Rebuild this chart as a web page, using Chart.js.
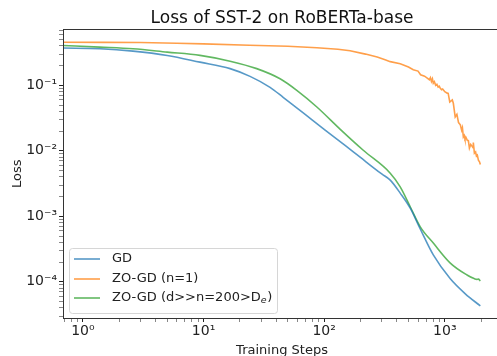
<!DOCTYPE html>
<html>
<head>
<meta charset="utf-8">
<script src="https://cdn.jsdelivr.net/npm/chart.js@4.4.0/dist/chart.umd.min.js"></script>
<style>
  html, body { margin: 0; padding: 0; overflow: hidden; background: #fff; }
  canvas { display: block; }
</style>
</head>
<body>
<canvas id="chart" width="504" height="356"></canvas>
<script>
// values (log-log)
const gdSteps = [0.684, 1.38, 2.6, 5, 9.35, 16.6, 24.3, 35.6, 45.7, 70, 100, 150, 200, 300, 353, 427, 517, 626, 803, 1111, 1479, 1971];
const gdLoss = [0.371, 0.362, 0.333, 0.286, 0.226, 0.180, 0.137, 0.0932, 0.0657, 0.0356, 0.0213, 0.0120, 0.00791, 0.00443, 0.00357, 0.00226, 0.00133, 0.00064, 0.000257, 0.000111, 0.0000655, 0.0000428];

const zoSteps = [0.684, 1.5, 3, 6, 10, 24, 50, 87, 130, 164, 220, 275, 320, 353, 427, 500, 548, 600, 630, 680, 720, 745, 760, 775, 790, 803, 820, 840, 860, 880, 900, 918, 940, 960, 1000, 1047, 1067, 1100, 1154, 1177, 1220, 1260, 1300, 1345, 1380, 1400, 1425, 1450, 1470, 1500, 1537, 1568, 1600, 1640, 1680, 1714, 1724, 1760, 1800, 1830, 1861, 1900, 1940, 1971];
const zoLoss = [0.455, 0.453, 0.45, 0.44, 0.43, 0.41, 0.395, 0.376, 0.355, 0.338, 0.30, 0.27, 0.245, 0.230, 0.214, 0.19, 0.173, 0.165, 0.145, 0.138, 0.128, 0.122, 0.131, 0.115, 0.126, 0.108, 0.114, 0.100, 0.104, 0.094, 0.097, 0.090, 0.086, 0.088, 0.080, 0.076, 0.0755, 0.0556, 0.060, 0.0532, 0.0329, 0.036, 0.027, 0.025, 0.0206, 0.0225, 0.0163, 0.0172, 0.0152, 0.016, 0.0145, 0.0143, 0.011, 0.0125, 0.0118, 0.0112, 0.0134, 0.0092, 0.0096, 0.0083, 0.0086, 0.0072, 0.0068, 0.0062, 0.0051];

const zo200Steps = [0.684, 1.38, 2.6, 5, 9.35, 16.6, 27.6, 43.1, 59.3, 87, 136, 211, 353, 427, 517, 626, 803, 1111, 1528, 1750, 1849, 1900, 1971];
const zo200Loss = [0.407, 0.384, 0.362, 0.322, 0.287, 0.234, 0.180, 0.126, 0.0839, 0.0467, 0.0213, 0.0102, 0.00456, 0.00282, 0.00140, 0.00069, 0.00039, 0.000193, 0.000127, 0.000112, 0.000109, 0.000110, 0.000103];

const seriesLabels = ['GD', 'ZO-GD (n=1)', 'ZO-GD (d>>n=200>De)'];
const seriesColors = ['rgba(31,119,180,0.75)', 'rgba(255,127,14,0.75)', 'rgba(44,160,44,0.75)'];

const xRange = [0.684, 2924];
const yRange = [2.8e-5, 0.715];

const sup = { '-': '⁻', '0': '⁰', '1': '¹', '2': '²', '3': '³', '4': '⁴', '5': '⁵' };

function isMajor(v) {
  const l = Math.log10(v);
  return Math.abs(l - Math.round(l)) < 1e-6;
}

function logTicks(min, max) {
  const t = [];
  for (let e = -6; e <= 4; e++) {
    for (let m = 1; m < 10; m++) {
      const v = m * Math.pow(10, e);
      if (v >= min && v <= max) t.push({ value: v });
    }
  }
  return t;
}

function tickLabel(v) {
  if (!isMajor(v)) return '';
  const e = String(Math.round(Math.log10(v)));
  return '10' + e.split('').map(c => sup[c]).join('');
}

function pts(xs, ys) {
  return xs.map((x, i) => ({ x: x, y: ys[i] }));
}

const font = { family: 'DejaVu Sans', size: 13 };
const tickFont = { family: 'DejaVu Sans', size: 14 };

// box around the plot area (matplotlib spines)
const frame = {
  id: 'frame',
  afterDatasetsDraw(chart) {
    const a = chart.chartArea, ctx = chart.ctx;
    ctx.save();
    ctx.strokeStyle = '#333';
    ctx.lineWidth = 1;
    ctx.strokeRect(Math.round(a.left) + 0.5, Math.round(a.top) + 0.5, Math.round(a.right - a.left), Math.round(a.bottom - a.top));
    ctx.restore();
  }
};

// legend in the lower-left corner, drawn like matplotlib's
const cornerLegend = {
  id: 'cornerLegend',
  afterDraw(chart) {
    const a = chart.chartArea, ctx = chart.ctx;
    const x = a.left + 6, w = 208, h = 65, y = a.bottom - 5 - h;
    ctx.save();
    ctx.beginPath();
    ctx.roundRect(x + 0.5, y + 0.5, w, h, 3);
    ctx.fillStyle = 'rgba(255,255,255,0.8)';
    ctx.fill();
    ctx.strokeStyle = '#d6d6d6';
    ctx.lineWidth = 1;
    ctx.stroke();
    const rows = [11, 31, 50];
    ctx.font = '13px "DejaVu Sans"';
    ctx.textBaseline = 'middle';
    ctx.fillStyle = '#222';
    chart.data.datasets.forEach((ds, i) => {
      const ry = y + rows[i];
      ctx.beginPath();
      ctx.moveTo(x + 5, ry);
      ctx.lineTo(x + 31, ry);
      ctx.strokeStyle = ds.borderColor;
      ctx.lineWidth = 1.6;
      ctx.stroke();
      let tx = x + 43;
      if (i === 2) {
        const head = 'ZO-GD (d>>n=200>D';
        ctx.fillText(head, tx, ry);
        tx += ctx.measureText(head).width;
        ctx.font = 'italic 9.5px "DejaVu Sans"';
        ctx.fillText('e', tx, ry + 3);
        tx += ctx.measureText('e').width + 0.5;
        ctx.font = '13px "DejaVu Sans"';
        ctx.fillText(')', tx, ry);
      } else {
        ctx.fillText(ds.label, tx, ry);
      }
    });
    ctx.restore();
  }
};

const tickStyle = {
  display: true,
  drawOnChartArea: false,
  drawTicks: true,
  tickLength: 4,
  tickColor: c => (c.tick && isMajor(c.tick.value)) ? '#222' : '#555',
  tickWidth: c => (c.tick && isMajor(c.tick.value)) ? 1 : 0.7
};

new Chart(document.getElementById('chart'), {
  type: 'line',
  data: {
    datasets: [
      { label: seriesLabels[0], data: pts(gdSteps, gdLoss), borderColor: seriesColors[0], cubicInterpolationMode: 'monotone' },
      { label: seriesLabels[1], data: pts(zoSteps, zoLoss), borderColor: seriesColors[1], tension: 0 },
      { label: seriesLabels[2], data: pts(zo200Steps, zo200Loss), borderColor: seriesColors[2], cubicInterpolationMode: 'monotone' }
    ]
  },
  options: {
    responsive: false,
    animation: false,
    devicePixelRatio: 1,
    layout: { padding: { left: 0, right: 3, top: 0, bottom: 0 } },
    elements: {
      point: { radius: 0 },
      line: { borderWidth: 1.6, fill: false }
    },
    scales: {
      x: {
        type: 'logarithmic',
        min: xRange[0],
        max: xRange[1],
        afterBuildTicks: s => { s.ticks = logTicks(xRange[0], xRange[1]); },
        afterFit: s => { s.height = 38; },
        grid: tickStyle,
        border: { display: true, color: '#333', width: 1 },
        ticks: { font: tickFont, color: '#222', padding: 1, autoSkip: false, maxRotation: 0, callback: v => tickLabel(v) },
        title: { display: true, text: 'Training Steps', font: font, color: '#222', padding: { top: 0, bottom: -2 } }
      },
      y: {
        type: 'logarithmic',
        min: yRange[0],
        max: yRange[1],
        afterBuildTicks: s => { s.ticks = logTicks(yRange[0], yRange[1]); },
        afterFit: s => { s.width = 63; },
        grid: tickStyle,
        border: { display: true, color: '#333', width: 1 },
        ticks: { font: tickFont, color: '#222', padding: 2, autoSkip: false, callback: v => tickLabel(v) },
        title: { display: true, text: 'Loss', font: font, color: '#222', padding: { top: 10, bottom: 0 } }
      }
    },
    plugins: {
      legend: { display: false },
      tooltip: { enabled: false },
      title: {
        display: true,
        text: 'Loss of SST-2 on RoBERTa-base',
        fullSize: false,
        color: '#111',
        font: { family: 'DejaVu Sans', size: 17, weight: 'normal' },
        padding: { top: 8, bottom: 1 }
      }
    }
  },
  plugins: [frame, cornerLegend]
});
</script>
</body>
</html>
